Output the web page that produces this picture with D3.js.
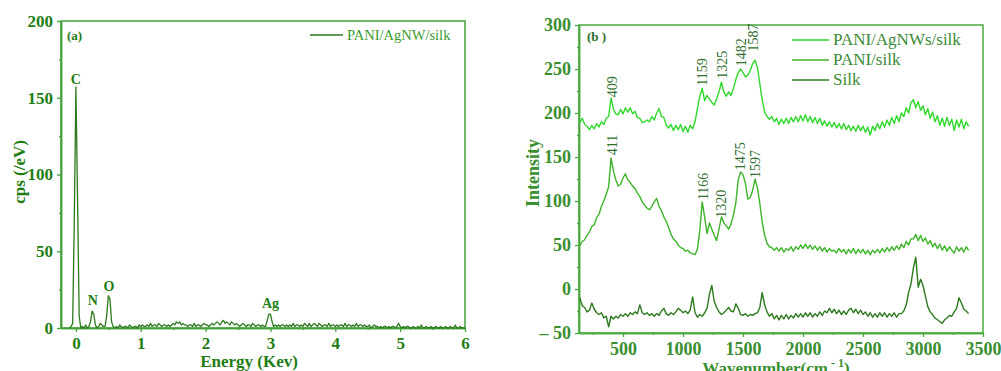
<!DOCTYPE html>
<html>
<head>
<meta charset="utf-8">
<script src="https://cdn.jsdelivr.net/npm/d3@7"></script>
<style>
  body { margin: 0; background: #fff; }
  svg { display: block; font-family: "Liberation Serif", "Times New Roman", serif; }
</style>
</head>
<body>
<svg id="chart" width="1001" height="371"></svg>
<script>
// (a) EDS spectrum, one count every 0.025 keV starting at -0.1 keV
const edsStart = -0.1;
const edsStep = 0.025;
const edsCounts = [
  0, 1, 3, 70, 157, 85, 8, 0, 1, 0, 2, 0, 1, 4, 11, 9, 2, 0, 1, 3,
  2, 1, 1, 8, 21, 19, 4, 1, 0, 1, 0, 2, 1, 0, 1, 1, 0, 2, 1, 0,
  1, 1, 0, 2, 1, 2, 1, 1, 2, 1, 3, 1, 2, 2, 1, 3, 2, 1, 2, 2,
  1, 2, 1, 2, 3, 2, 4, 3, 4, 2, 3, 2, 2, 1, 2, 2, 1, 3, 1, 2,
  2, 1, 2, 3, 2, 2, 1, 2, 3, 2, 3, 4, 3, 2, 4, 5, 3, 4, 3, 2,
  4, 3, 2, 3, 2, 1, 2, 3, 2, 1, 2, 2, 1, 3, 2, 1, 2, 2, 1, 2,
  1, 1, 5, 9, 9, 4, 1, 2, 1, 2, 1, 2, 2, 1, 2, 1, 2, 1, 3, 1,
  2, 2, 1, 2, 1, 3, 2, 1, 3, 1, 2, 3, 2, 1, 3, 2, 1, 2, 2, 1,
  3, 1, 2, 2, 1, 2, 1, 2, 2, 1, 3, 1, 2, 2, 1, 2, 1, 3, 1, 2,
  2, 1, 2, 1, 1, 2, 0, 1, 2, 1, 1, 0, 1, 0, 1, 1, 0, 1, 0, 1,
  1, 0, 1, 3, 1, 0, 1, 0, 1, 1, 0, 0, 1, 0, 0, 1, 0, 2, 0, 0,
  1, 0, 0, 1, 0, 0, 1, 0, 0, 1, 0, 0, 1, 0, 0, 1, 0, 0, 2, 0,
  0, 1, 0, 0, 0
];
const edsElements = ["C", "N", "O", "Ag"];
const edsElementEnergy = [0, 0.26, 0.51, 3.0];
const edsElementLabelY = [159, 15, 24, 13];

// (b) Raman spectra, one value every 20 cm-1 starting at 140 cm-1
const ramanStart = 140;
const ramanStep = 20;
const ramanNames = ["PANI/AgNWs/silk", "PANI/silk", "Silk"];
const paniAgnwSilk = [
  189, 194, 187, 185, 181, 186, 182, 188, 184, 190,
  187, 194, 196, 217, 204, 199, 198, 204, 199, 206,
  201, 206, 199, 202, 195, 194, 189, 190, 192, 190,
  196, 192, 200, 205, 196, 195, 186, 183, 187, 180,
  186, 181, 187, 179, 185, 178, 186, 182, 190, 205,
  219, 228, 214, 220, 216, 212, 209, 216, 224, 235,
  224, 219, 224, 220, 228, 238, 246, 250, 246, 241,
  243, 248, 256, 260, 252, 233, 215, 201, 196, 193,
  196, 190, 194, 187, 193, 188, 194, 188, 195, 190,
  196, 190, 197, 191, 198, 190, 196, 189, 195, 188,
  194, 186, 191, 185, 190, 184, 189, 183, 188, 182,
  188, 181, 186, 180, 185, 179, 186, 180, 185, 178,
  184, 175, 185, 180, 188, 182, 190, 184, 192, 186,
  195, 188, 197, 190, 200, 196, 206, 200, 212, 215,
  206, 213, 203, 208, 198, 205, 194, 201, 190, 197,
  186, 194, 185, 195, 186, 193, 180, 192, 184, 193,
  182, 190, 185
];
const paniSilk = [
  49, 54, 56, 61, 65, 71, 73, 81, 85, 94,
  100, 108, 116, 149, 134, 124, 117, 119, 126, 131,
  124, 121, 117, 114, 109, 105, 99, 95, 92, 90,
  94, 99, 103, 94, 89, 82, 77, 70, 62, 57,
  54, 50, 47, 46, 43, 44, 41, 40, 39, 45,
  67, 99, 82, 63, 75, 68, 61, 55, 68, 82,
  75, 72, 68, 74, 84, 98, 124, 133, 130, 120,
  102, 104, 112, 125, 115, 97, 76, 61, 52, 48,
  47, 44, 47, 43, 47, 42, 46, 44, 48, 43,
  48, 45, 50, 46, 51, 46, 50, 45, 49, 44,
  48, 43, 47, 42, 46, 43, 44, 41, 46, 42,
  45, 40, 45, 41, 46, 40, 45, 41, 45, 40,
  44, 39, 44, 41, 45, 41, 46, 42, 47, 43,
  48, 44, 49, 45, 51, 47, 54, 50, 57, 57,
  62, 55, 61, 54, 58, 51, 55, 48, 52, 46,
  51, 44, 49, 43, 48, 44, 41, 48, 43, 47,
  42, 48, 44
];
const silk = [
  -10, -19, -21, -26, -24, -16, -23, -27, -29, -27,
  -33, -31, -43, -31, -34, -31, -33, -29, -31, -28,
  -31, -27, -29, -26, -28, -18, -27, -29, -27, -30,
  -28, -31, -28, -30, -25, -22, -28, -30, -27, -29,
  -26, -22, -24, -27, -25, -28, -24, -9, -27, -32,
  -29, -31, -27, -22, -6, 4, -14, -21, -26, -29,
  -27, -24, -21, -25, -26, -17, -22, -29, -30, -28,
  -31, -29, -30, -28, -27, -21, -4, -18, -26, -31,
  -28, -34, -30, -35, -30, -34, -29, -34, -30, -33,
  -28, -32, -28, -32, -27, -31, -27, -32, -28, -31,
  -26, -30, -25, -27, -22, -27, -23, -28, -24, -29,
  -25, -29, -24, -22, -27, -23, -28, -24, -29, -26,
  -31, -27, -32, -28, -32, -27, -31, -27, -32, -28,
  -31, -27, -32, -28, -28, -25, -18, -4, 6, 24,
  36, 2, 11, 4, -8, -20, -26, -29, -33, -35,
  -37, -39, -35, -33, -30, -31, -26, -22, -10, -16,
  -23, -25, -28
];
const topPeaks = [409, 1159, 1325, 1482, 1587];
const topPeakLabelY = [218, 231, 239, 253, 270];
const midPeaks = [411, 1166, 1320, 1475, 1597];
const midPeakLabelY = [152, 101, 81, 135, 126];

const svg = d3.select("#chart");

function styleAxis(g, lineColor, textColor, size) {
  g.attr("font-family", null).attr("font-size", size).attr("font-weight", "bold");
  g.select(".domain").attr("stroke", lineColor).attr("stroke-width", 1.5);
  g.selectAll(".tick line").attr("stroke", lineColor).attr("stroke-width", 1.3);
  g.selectAll(".tick text").attr("fill", textColor);
}

function drawFrame(g, x, y, color) {
  g.append("rect")
    .attr("x", x.range()[0])
    .attr("y", y.range()[1])
    .attr("width", x.range()[1] - x.range()[0])
    .attr("height", y.range()[0] - y.range()[1])
    .attr("fill", "none")
    .attr("stroke", color)
    .attr("stroke-width", 1.5);
}

// ---------- panel (a) ----------
const colA = { axis: "#43a03a", text: "#1f7d14", line: "#2c7a1e", legend: "#3c9a32" };
const xA = d3.scaleLinear().domain([-0.23, 6]).range([61, 465]);
const yA = d3.scaleLinear().domain([0, 200]).range([328, 21]);
const gA = svg.append("g");

drawFrame(gA, xA, yA, colA.axis);

gA.append("g")
  .attr("transform", `translate(0,${yA(0)})`)
  .call(d3.axisBottom(xA).tickValues([0.5, 1.5, 2.5, 3.5, 4.5, 5.5]).tickSize(2).tickSizeOuter(0).tickFormat(""))
  .call(g => styleAxis(g, colA.axis, colA.text, 17));
gA.append("g")
  .attr("transform", `translate(0,${yA(0)})`)
  .call(d3.axisBottom(xA).tickValues(d3.range(0, 7)).tickSize(4).tickSizeOuter(0).tickPadding(5)
    .tickFormat(d3.format("d")))
  .call(g => styleAxis(g, colA.axis, colA.text, 17));

gA.append("g")
  .attr("transform", `translate(${xA.range()[0]},0)`)
  .call(d3.axisLeft(yA).tickValues([25, 75, 125, 175]).tickSize(2).tickSizeOuter(0).tickFormat(""))
  .call(g => styleAxis(g, colA.axis, colA.text, 17));
gA.append("g")
  .attr("transform", `translate(${xA.range()[0]},0)`)
  .call(d3.axisLeft(yA).tickValues([0, 50, 100, 150, 200]).tickSize(4).tickSizeOuter(0).tickPadding(4)
    .tickFormat(d3.format("d")))
  .call(g => styleAxis(g, colA.axis, colA.text, 17));

// spectrum
const edsLine = d3.line()
  .x((d, i) => xA(edsStart + i * edsStep))
  .y(d => yA(d));

gA.append("path")
  .datum(edsCounts)
  .attr("fill", "none")
  .attr("stroke", colA.line)
  .attr("stroke-width", 1.3)
  .attr("stroke-linejoin", "round")
  .attr("d", edsLine);

// element labels
gA.selectAll(".el")
  .data(edsElements)
  .join("text")
  .attr("x", (d, i) => xA(edsElementEnergy[i]))
  .attr("y", (d, i) => yA(edsElementLabelY[i]))
  .attr("text-anchor", "middle")
  .attr("font-size", 14)
  .attr("font-weight", "bold")
  .attr("fill", colA.text)
  .text(d => d);

gA.append("text").attr("x", 67).attr("y", 40)
  .attr("font-size", 13).attr("font-weight", "bold").attr("fill", colA.text).text("(a)");

gA.append("line").attr("x1", 310).attr("x2", 343).attr("y1", 35).attr("y2", 35)
  .attr("stroke", colA.line).attr("stroke-width", 1.5);
gA.append("text").attr("x", 347).attr("y", 40)
  .attr("font-size", 14.5).attr("fill", colA.legend).text("PANI/AgNW/silk");

gA.append("text")
  .attr("transform", "translate(25,172) rotate(-90)")
  .attr("text-anchor", "middle")
  .attr("font-size", 17).attr("font-weight", "bold").attr("fill", colA.text)
  .text("cps (/eV)");
gA.append("text")
  .attr("x", 249).attr("y", 367)
  .attr("text-anchor", "middle")
  .attr("font-size", 17).attr("font-weight", "bold").attr("fill", colA.text)
  .text("Energy (Kev)");

// ---------- panel (b) ----------
const colB = { axis: "#4aa83c", text: "#3a8f30", label: "#2f6e2c", legend: "#3a8a36" };
const seriesColors = ["#2fd82a", "#3db42a", "#2c7a1e"];
const xB = d3.scaleLinear().domain([133, 3500]).range([579, 983]);
const yB = d3.scaleLinear().domain([-50, 300]).range([333, 25]);
const gB = svg.append("g");

drawFrame(gB, xB, yB, colB.axis);

gB.append("g")
  .attr("transform", `translate(0,${yB(-50)})`)
  .call(d3.axisBottom(xB).tickValues(d3.range(250, 3500, 500)).tickSize(2).tickSizeOuter(0).tickFormat(""))
  .call(g => styleAxis(g, colB.axis, colB.text, 18));
gB.append("g")
  .attr("transform", `translate(0,${yB(-50)})`)
  .call(d3.axisBottom(xB).tickValues(d3.range(500, 3501, 500)).tickSize(4).tickSizeOuter(0).tickPadding(5)
    .tickFormat(d3.format("d")))
  .call(g => styleAxis(g, colB.axis, colB.text, 18));

gB.append("g")
  .attr("transform", `translate(${xB.range()[0]},0)`)
  .call(d3.axisLeft(yB).tickValues(d3.range(-25, 300, 50)).tickSize(2).tickSizeOuter(0).tickFormat(""))
  .call(g => styleAxis(g, colB.axis, colB.text, 18));
gB.append("g")
  .attr("transform", `translate(${xB.range()[0]},0)`)
  .call(d3.axisLeft(yB).tickValues(d3.range(-50, 301, 50)).tickSize(4).tickSizeOuter(0).tickPadding(4)
    .tickFormat(d => d < 0 ? "\u2013 " + Math.abs(d) : d))
  .call(g => styleAxis(g, colB.axis, colB.text, 18));

// spectra
const ramanLine = d3.line()
  .x((d, i) => xB(ramanStart + i * ramanStep))
  .y(d => yB(d));

[paniAgnwSilk, paniSilk, silk].forEach((s, k) => {
  gB.append("path")
    .datum(s)
    .attr("fill", "none")
    .attr("stroke", seriesColors[k])
    .attr("stroke-width", 1.4)
    .attr("stroke-linejoin", "round")
    .attr("d", ramanLine);
});

// peak positions, rotated
function peakLabels(peaks, labelY) {
  gB.append("g").selectAll("text")
    .data(peaks)
    .join("text")
    .attr("transform", (d, i) => `translate(${xB(d)},${yB(labelY[i])}) rotate(-90)`)
    .attr("dy", "0.35em")
    .attr("font-size", 14)
    .attr("fill", colB.label)
    .text(d => d);
}
peakLabels(topPeaks, topPeakLabelY);
peakLabels(midPeaks, midPeakLabelY);

gB.append("text").attr("x", 587).attr("y", 41)
  .attr("font-size", 13).attr("font-weight", "bold").attr("fill", colB.label).text("(b )");

// legend
const legB = gB.append("g").selectAll("g")
  .data(ramanNames)
  .join("g")
  .attr("transform", (d, i) => `translate(792,${40 + i * 20})`);
legB.append("line").attr("x1", 0).attr("x2", 37)
  .attr("stroke", (d, i) => seriesColors[i]).attr("stroke-width", 1.5);
legB.append("text").attr("x", 41).attr("y", 5)
  .attr("font-size", 17).attr("fill", colB.legend).text(d => d);

gB.append("text")
  .attr("transform", "translate(539,173) rotate(-90)")
  .attr("text-anchor", "middle")
  .attr("font-size", 18).attr("font-weight", "bold").attr("fill", colB.text)
  .text("Intensity");

// axis title runs off the bottom edge, as in the source figure
const xLab = gB.append("text")
  .attr("x", 776).attr("y", 374)
  .attr("text-anchor", "middle")
  .attr("font-size", 17).attr("font-weight", "bold").attr("fill", colB.text);
xLab.append("tspan").text("Wavenumber(cm");
xLab.append("tspan").attr("dy", -7).attr("font-size", 12).text(" - 1");
xLab.append("tspan").attr("dy", 7).text(")");
</script>
</body>
</html>
